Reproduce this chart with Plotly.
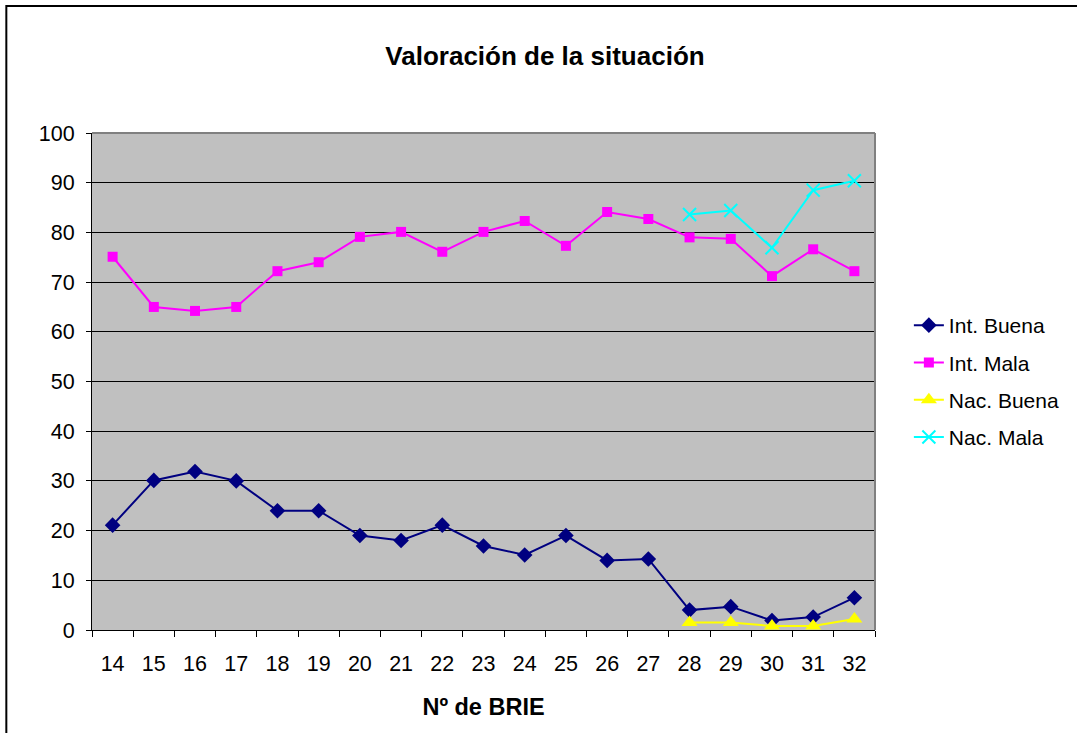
import plotly.graph_objects as go

categories = [str(c) for c in range(14, 33)]
int_buena = [21.1, 30.1, 31.9, 30.0, 24.0, 24.0, 19.0, 18.0, 21.1, 16.9,
             15.1, 19.0, 14.0, 14.3, 4.0, 4.7, 1.9, 2.6, 6.5]
int_mala = [75.1, 65.0, 64.2, 65.0, 72.2, 74.0, 79.1, 80.1, 76.1, 80.1,
            82.3, 77.3, 84.1, 82.7, 79.0, 78.7, 71.2, 76.6, 72.2]
nac_buena = [None] * 14 + [1.5, 1.5, 0.8, 0.8, 2.2]
nac_mala = [None] * 14 + [83.6, 84.4, 76.9, 88.5, 90.4]

FONT = "Liberation Sans, Arial, sans-serif"

fig = go.Figure()
series = [
    ("Int. Buena", int_buena, "#000080", dict(symbol="diamond", size=12, color="#000080")),
    ("Int. Mala", int_mala, "#FF00FF", dict(symbol="square", size=10, color="#FF00FF")),
    ("Nac. Buena", nac_buena, "#FFFF00", dict(symbol="triangle-up", size=14, color="#FFFF00")),
    ("Nac. Mala", nac_mala, "#00FFFF", dict(symbol="x-thin", size=13, color="#00FFFF",
                                             line=dict(color="#00FFFF", width=2))),
]
for name, vals, col, mk in series:
    fig.add_trace(go.Scatter(
        x=categories, y=vals, name=name, mode="lines+markers",
        line=dict(color=col, width=2), marker=mk, legendgroup=name,
    ))

L, R, T, B = 92, 878, 133, 630
W, H = 1077, 733

def px2paper_x(px):
    return (px - L) / (R - L)

def px2paper_y(py):
    return (B - py) / (B - T)

shapes = [
    # outer chart border
    dict(type="rect", xref="paper", yref="paper",
         x0=px2paper_x(6), x1=px2paper_x(1090), y0=px2paper_y(745), y1=px2paper_y(6),
         line=dict(color="black", width=2), fillcolor="rgba(0,0,0,0)", layer="below"),
    # plot area top and right border (gray)
    dict(type="line", xref="paper", yref="paper", x0=0, x1=1, y0=1, y1=1,
         line=dict(color="#808080", width=2), layer="above"),
    dict(type="line", xref="paper", yref="paper", x0=1, x1=1, y0=0, y1=1,
         line=dict(color="#808080", width=2), layer="above"),
]

fig.update_layout(
    width=W, height=H,
    margin=dict(l=L, r=W - R, t=T, b=H - B),
    paper_bgcolor="white",
    plot_bgcolor="#C0C0C0",
    font=dict(family=FONT, size=21, color="black"),
    title=dict(text="<b>Valoración de la situación</b>", x=545 / W,
               xanchor="center", y=1 - 56 / H, yanchor="middle",
               font=dict(family=FONT, size=26, color="black")),
    showlegend=True,
    legend=dict(x=px2paper_x(912), xanchor="left", y=px2paper_y(305), yanchor="top",
                font=dict(family=FONT, size=21, color="black"),
                tracegroupgap=7, bgcolor="rgba(0,0,0,0)"),
    shapes=shapes,
)

fig.update_xaxes(
    type="category", range=[-0.5, 18.5],
    showgrid=False, showline=True, linecolor="black", linewidth=1,
    ticks="outside", tickson="boundaries", ticklen=6, tickcolor="black",
    ticklabelstandoff=14,
    tickfont=dict(family=FONT, size=21.5, color="black"),
    title=dict(text="<b>Nº de BRIE</b>", font=dict(family=FONT, size=23.5, color="black"),
               standoff=23),
    zeroline=False,
)
fig.update_yaxes(
    range=[0, 100], dtick=10, tick0=0,
    showgrid=True, gridcolor="black", gridwidth=1,
    showline=True, linecolor="black", linewidth=1,
    ticks="outside", ticklen=5, tickcolor="black",
    ticklabelstandoff=7,
    tickfont=dict(family=FONT, size=21.5, color="black"),
    zeroline=False,
)

fig.write_html("out.html", config={"displayModeBar": False},
               post_script="document.body.style.margin='0';")
